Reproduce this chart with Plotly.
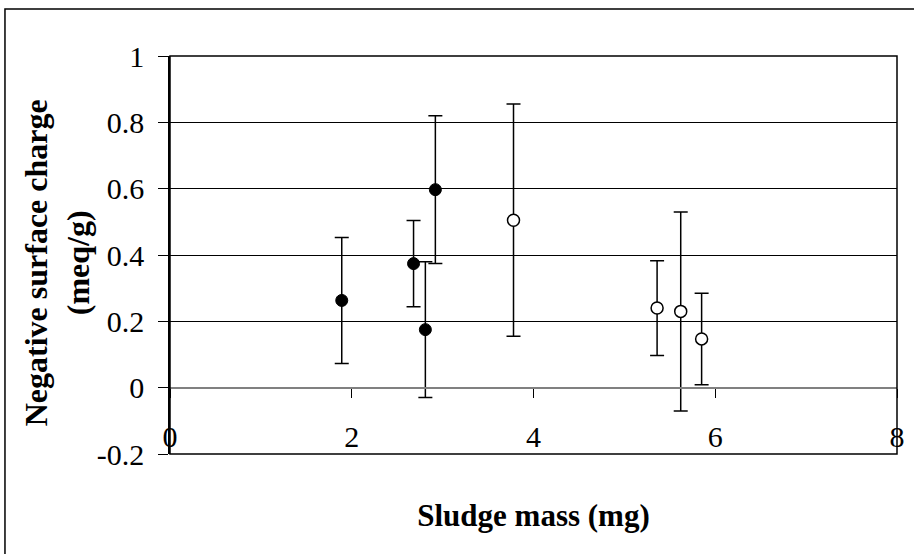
import plotly.graph_objects as go

# Data
x_filled = [1.89, 2.68, 2.81, 2.92]
y_filled = [0.263, 0.374, 0.175, 0.597]
err_filled = [0.19, 0.13, 0.205, 0.223]

x_open = [3.78, 5.36, 5.62, 5.85]
y_open = [0.505, 0.24, 0.23, 0.147]
err_open = [0.35, 0.143, 0.30, 0.138]

x_ticks = [0, 2, 4, 6, 8]
y_ticks = [-0.2, 0, 0.2, 0.4, 0.6, 0.8, 1]
y_ticklabels = ["-0.2", "0", "0.2", "0.4", "0.6", "0.8", "1"]

FONT = "Liberation Serif"

fig = go.Figure()
fig.add_trace(go.Scatter(
    x=x_filled, y=y_filled, mode="markers",
    marker=dict(symbol="circle", size=12, color="black", line=dict(color="black", width=1)),
    error_y=dict(type="data", array=err_filled, visible=True, color="black", thickness=1.5, width=7),
    showlegend=False,
))
fig.add_trace(go.Scatter(
    x=x_open, y=y_open, mode="markers",
    marker=dict(symbol="circle", size=12, color="white", line=dict(color="black", width=1.5)),
    error_y=dict(type="data", array=err_open, visible=True, color="black", thickness=1.5, width=7),
    showlegend=False,
))

ymin, ymax = -0.2, 1.0
xpos = (0 - ymin) / (ymax - ymin)

fig.update_layout(
    width=914, height=554,
    margin=dict(l=170, r=17, t=56, b=100),
    paper_bgcolor="white", plot_bgcolor="white",
    font=dict(family=FONT, size=30, color="black"),
    xaxis=dict(
        range=[0, 8], tickvals=x_ticks, ticktext=[str(v) for v in x_ticks],
        showgrid=False, zeroline=False,
        showline=True, linecolor="#808080", linewidth=2,
        ticks="outside", ticklen=9, tickcolor="black", tickwidth=1,
        anchor="free", position=xpos,
        ticklabelstandoff=13,
        tickfont=dict(family=FONT, size=30),
        title=dict(text="<b>Sludge mass (mg)</b>", font=dict(family=FONT, size=31), standoff=52),
        automargin=False,
    ),
    yaxis=dict(
        range=[ymin, ymax], tickvals=y_ticks, ticktext=y_ticklabels,
        showgrid=True, gridcolor="black", gridwidth=1,
        zeroline=False,
        showline=True, linecolor="black", linewidth=1.5,
        ticks="outside", ticklen=10, tickcolor="black", tickwidth=1,
        ticklabelstandoff=8,
        tickfont=dict(family=FONT, size=30),
        automargin=False,
    ),
    annotations=[
        dict(text="<b>Negative surface charge<br>(meq/g)</b>", xref="paper", yref="paper",
             x=-0.155, y=0.48, xanchor="center", yanchor="middle", textangle=-90,
             showarrow=False, font=dict(family=FONT, size=32)),
    ],
    shapes=[
        dict(type="rect", xref="x domain", yref="y domain", x0=0, x1=1, y0=0, y1=1,
             line=dict(color="black", width=1.5), layer="above"),
        dict(type="rect", xref="paper", yref="paper", x0=-0.227, x1=1.2, y0=-0.5, y1=1.118,
             line=dict(color="black", width=1.5), layer="above"),
    ],
)

fig.write_html("out.html")
